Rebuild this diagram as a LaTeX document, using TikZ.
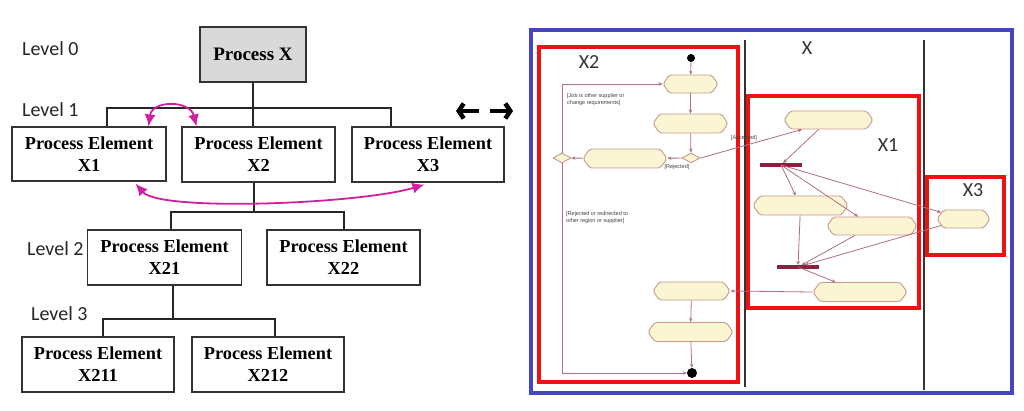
\documentclass[tikz,border=0pt]{standalone}
\usepackage{fontspec}
\setmainfont{Liberation Serif}
\newfontfamily\lvlfont{Carlito}
\newfontfamily\smallsans{Liberation Sans}
\usetikzlibrary{arrows.meta,shapes.symbols,shapes.geometric,calc}
\definecolor{mag}{HTML}{D020A0}
\definecolor{blu}{HTML}{4444C4}
\definecolor{redb}{HTML}{EE1111}
\definecolor{actfill}{HTML}{FBF5D3}
\definecolor{actdraw}{HTML}{C49A8C}
\definecolor{edgec}{HTML}{B07080}
\definecolor{barc}{HTML}{8A2040}
\begin{document}
\begin{tikzpicture}[x=1pt,y=-1pt,
 pe/.style={draw=black!80, line width=1.1pt, align=center, font=\fontsize{18.3}{22}\selectfont\bfseries, inner sep=0pt},
 lvl/.style={font=\lvlfont\fontsize{20}{22}\selectfont, anchor=west, inner sep=0pt, text=black!85},
 lbl/.style={font=\lvlfont\fontsize{20}{22}\selectfont, inner sep=0pt, text=black!80},
 tree/.style={draw=black!85, line width=1.1pt},
 magarr/.style={draw=mag, line width=1.8pt, {Latex[length=12pt,width=11pt]}-{Latex[length=12pt,width=11pt]}},
 bigarr/.style={draw=black, line width=4.5pt, -{Straight Barb[length=5pt,width=15pt]}},
 act/.style={signal, signal to=east and west, signal pointer angle=110, draw=actdraw, fill=actfill, line width=0.9pt, inner sep=0pt, rounded corners=2pt},
 dec/.style={diamond, draw=actdraw, fill=actfill, line width=0.9pt, minimum width=18pt, minimum height=10pt, inner sep=0pt},
 dot/.style={circle, fill=black, minimum size=8pt, inner sep=0pt},
 bar/.style={rectangle, fill=barc, minimum width=42pt, minimum height=3.5pt, inner sep=0pt},
 flow/.style={draw=edgec, line width=0.8pt, -{Stealth[length=4pt,width=3.5pt]}},
 tiny/.style={font=\smallsans\fontsize{5.5}{7}\selectfont, align=left, inner sep=0pt, text=black!75, anchor=west},
 lane/.style={draw=black!80, line width=2.5pt},
 redbox/.style={draw=redb, line width=4pt},
]
\useasboundingbox (0,0) rectangle (1024,411);
\fill[white] (0,0) rectangle (1024,411);

% ---------------- left: hierarchy ----------------
\node[lvl] (L0) at (22,49) {Level 0};
\node[lvl] (L1) at (22,110) {Level 1};
\node[lvl] (L2) at (27,249) {Level 2};
\node[lvl] (L3) at (31,314) {Level 3};

\node[pe, fill=black!15, minimum width=106pt, minimum height=55pt, font=\fontsize{19}{22}\selectfont\bfseries] (PX) at (253,54.5) {Process X};
\node[pe, minimum width=154pt, minimum height=54pt] (X1) at (89,154) {Process Element\\X1};
\node[pe, minimum width=153pt, minimum height=55pt] (X2) at (258.5,154.5) {Process Element\\X2};
\node[pe, minimum width=152pt, minimum height=55pt] (X3) at (428,154.5) {Process Element\\X3};
\node[pe, minimum width=154pt, minimum height=55pt] (X21) at (164.5,257.5) {Process Element\\X21};
\node[pe, minimum width=153pt, minimum height=55pt] (X22) at (343.5,257.5) {Process Element\\X22};
\node[pe, minimum width=152pt, minimum height=55pt] (X211) at (98,364.5) {Process Element\\X211};
\node[pe, minimum width=152pt, minimum height=55pt] (X212) at (268,364.5) {Process Element\\X212};

\coordinate (h1L) at (107,108);
\coordinate (h1R) at (391,108);
\draw[tree] (PX.south) -- (PX.south |- X2.north);
\draw[tree] (h1L |- X1.north) -- (h1L) -- (h1R) -- (h1R |- X3.north);

\coordinate (h2L) at (171,212);
\coordinate (h2R) at (344,212);
\coordinate (h2m) at (254,212);
\draw[tree] (h2m |- X2.south) -- (h2m);
\draw[tree] (h2L |- X21.north) -- (h2L) -- (h2R) -- (h2R |- X22.north);

\coordinate (h3L) at (103,319);
\coordinate (h3R) at (275,319);
\coordinate (h3m) at (173,319);
\draw[tree] (h3m |- X21.south) -- (h3m);
\draw[tree] (h3L |- X211.north) -- (h3L) -- (h3R) -- (h3R |- X212.north);

\draw[magarr] ($(X1.north east)+(-18,0)$) .. controls (152,100) and (190,100) .. ($(X2.north west)+(15,0)$);
\draw[magarr] ($(X1.south east)+(-31,2)$) .. controls (160,212) and (360,204) .. ($(X3.south west)+(73,2)$);

\coordinate (la1) at (479,111);
\coordinate (la2) at (456,111);
\coordinate (ra1) at (490,111);
\coordinate (ra2) at (513,111);
\draw[bigarr] (la1) -- (la2);
\draw[bigarr] (ra1) -- (ra2);

% ---------------- right: activity diagram ----------------
\draw[blu, line width=3.5pt] (531,30) rectangle (1012,393);
\draw[lane] (745,40) -- (745,387);
\draw[lane] (924,40) -- (924,390);
\draw[redbox] (539,47) rectangle (738,382);
\draw[redbox] (748,96) rectangle (919,308);
\draw[redbox] (927,177) rectangle (1004,255);

\node[lbl] (tX2) at (589,62) {X2};
\node[lbl] (tX) at (807,48) {X};
\node[lbl] (tX1) at (888,145) {X1};
\node[lbl] (tX3) at (973,190) {X3};

\node[dot] (i0) at (691,58) {};
\node[act, minimum width=55pt, minimum height=18pt] (A1) at (690.5,84) {};
\node[act, minimum width=75pt, minimum height=19pt] (A2) at (690.5,123.5) {};
\node[dec] (D1) at (691,158) {};
\node[act, minimum width=84pt, minimum height=19pt] (A3) at (625,158.5) {};
\node[dec] (D2) at (562,158) {};
\node[act, minimum width=77pt, minimum height=18pt] (A4) at (691.5,291) {};
\node[act, minimum width=85pt, minimum height=19pt] (A5) at (690.5,332) {};
\node[dot, minimum size=10pt] (f0) at (692,373) {};

\node[act, minimum width=89pt, minimum height=18pt] (B1) at (828.5,120) {};
\node[bar] (bar1) at (781,165) {};
\node[act, minimum width=95pt, minimum height=19pt] (B2) at (800.5,205.5) {};
\node[act, minimum width=90pt, minimum height=18pt] (B3) at (872,226) {};
\node[bar] (bar2) at (798,267) {};
\node[act, minimum width=94pt, minimum height=19pt] (B4) at (860,292) {};
\node[act, minimum width=53pt, minimum height=18pt] (C1) at (963.5,219) {};

\draw[flow] (i0) -- (A1);
\draw[flow] (A1) -- (A2);
\draw[flow] (A2) -- (D1);
\draw[flow] (D1) -- (A3);
\draw[flow] (A3) -- (D2);
\draw[flow] (D2.north) |- (A1.west);
\draw[flow] (D2.south) |- (f0.west);
\draw[flow] (D1.east) -- ($(B1.south west)+(12,0)$);
\draw[flow] (B1) -- (bar1);
\draw[flow] (bar1.center) -- (B2);
\draw[flow] (bar1.center) -- (B3);
\draw[flow] (bar1.center) -- (C1);
\draw[flow] (B2) -- (bar2);
\draw[flow] (B3) -- (bar2);
\draw[flow] (C1) -- (bar2);
\draw[flow] (bar2.center) -- (B4);
\draw[flow] (B4.west) -- (A4.east);
\draw[flow] (A4) -- (A5);
\draw[flow] (A5) -- (f0);

\node[tiny] (t1) at (567,99.5) {[Job is other supplier or\\change requirements]};
\node[tiny] (t2) at (566,218) {[Rejected or redirected to\\other region or supplier]};
\node[tiny, anchor=center] (t3) at (744,138) {[Accepted]};
\node[tiny, anchor=center] (t4) at (677,167) {[Rejected]};
\end{tikzpicture}
\end{document}
